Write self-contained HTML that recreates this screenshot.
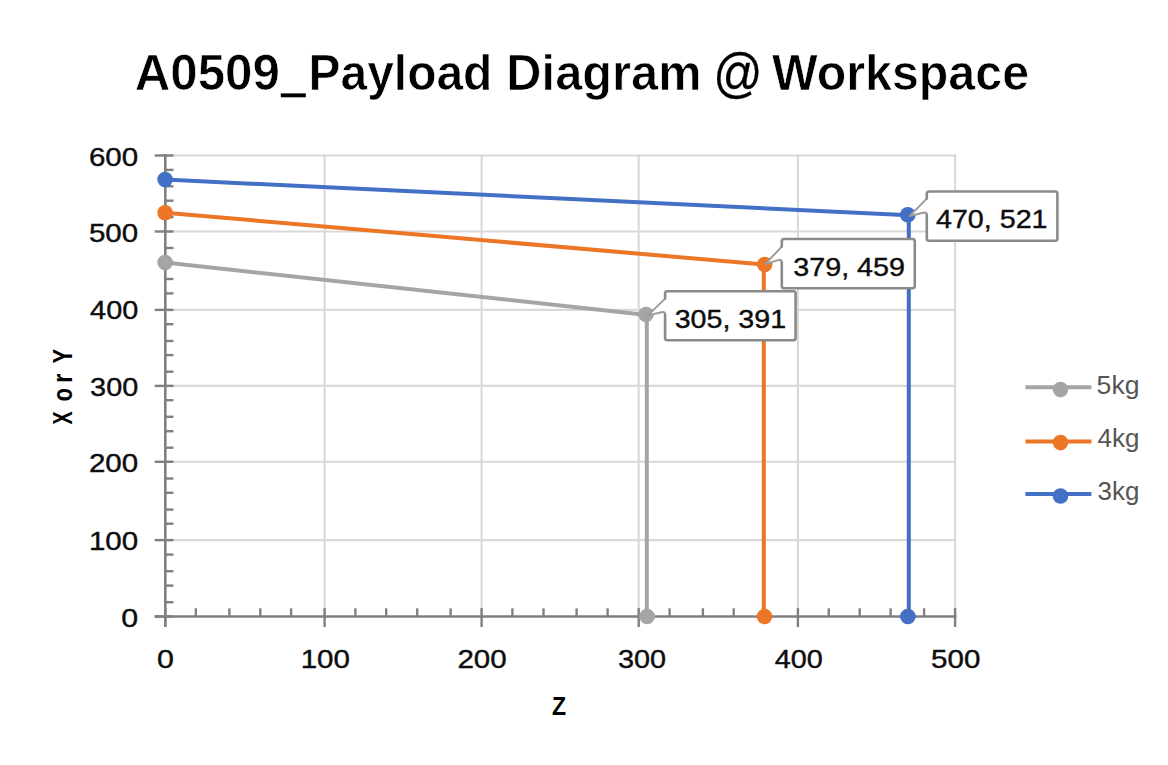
<!DOCTYPE html>
<html><head><meta charset="utf-8"><title>A0509 Payload Diagram</title>
<style>
html,body{margin:0;padding:0;background:#ffffff;}
body{width:1168px;height:765px;overflow:hidden;font-family:"Liberation Sans", sans-serif;}
svg{display:block;}
</style></head><body>
<svg width="1168" height="765" viewBox="0 0 1168 765">
<rect width="1168" height="765" fill="#ffffff"/>
<g stroke="#d9d9d9" stroke-width="2.1" fill="none">
<line x1="165.3" y1="540.1" x2="956.2" y2="540.1"/>
<line x1="165.3" y1="461.8" x2="956.2" y2="461.8"/>
<line x1="165.3" y1="385.9" x2="956.2" y2="385.9"/>
<line x1="165.3" y1="309.9" x2="956.2" y2="309.9"/>
<line x1="165.3" y1="231.5" x2="956.2" y2="231.5"/>
<line x1="165.3" y1="155.5" x2="956.2" y2="155.5"/>
<line x1="324.6" y1="154.4" x2="324.6" y2="616.5"/>
<line x1="481.6" y1="154.4" x2="481.6" y2="616.5"/>
<line x1="638.7" y1="154.4" x2="638.7" y2="616.5"/>
<line x1="797.9" y1="154.4" x2="797.9" y2="616.5"/>
<line x1="955.1" y1="154.4" x2="955.1" y2="616.5"/>
</g>
<g stroke="#808080" fill="none">
<g stroke-width="2.6">
<line x1="165.3" y1="154.2" x2="165.3" y2="627.0"/>
<line x1="154.7" y1="616.5" x2="956.4" y2="616.5"/>
</g><g stroke-width="2.4">
<line x1="154.7" y1="616.5" x2="173.5" y2="616.5"/>
<line x1="165.3" y1="602.2" x2="173.5" y2="602.2"/>
<line x1="165.3" y1="585.6" x2="173.5" y2="585.6"/>
<line x1="165.3" y1="571.2" x2="173.5" y2="571.2"/>
<line x1="165.3" y1="554.6" x2="173.5" y2="554.6"/>
<line x1="154.7" y1="540.1" x2="173.5" y2="540.1"/>
<line x1="165.3" y1="523.7" x2="173.5" y2="523.7"/>
<line x1="165.3" y1="509.6" x2="173.5" y2="509.6"/>
<line x1="165.3" y1="492.8" x2="173.5" y2="492.8"/>
<line x1="165.3" y1="478.5" x2="173.5" y2="478.5"/>
<line x1="154.7" y1="461.8" x2="173.5" y2="461.8"/>
<line x1="165.3" y1="447.7" x2="173.5" y2="447.7"/>
<line x1="165.3" y1="431.2" x2="173.5" y2="431.2"/>
<line x1="165.3" y1="416.8" x2="173.5" y2="416.8"/>
<line x1="165.3" y1="400.2" x2="173.5" y2="400.2"/>
<line x1="154.7" y1="385.9" x2="173.5" y2="385.9"/>
<line x1="165.3" y1="371.7" x2="173.5" y2="371.7"/>
<line x1="165.3" y1="355.1" x2="173.5" y2="355.1"/>
<line x1="165.3" y1="341.0" x2="173.5" y2="341.0"/>
<line x1="165.3" y1="324.2" x2="173.5" y2="324.2"/>
<line x1="154.7" y1="309.9" x2="173.5" y2="309.9"/>
<line x1="165.3" y1="293.4" x2="173.5" y2="293.4"/>
<line x1="165.3" y1="279.0" x2="173.5" y2="279.0"/>
<line x1="165.3" y1="262.4" x2="173.5" y2="262.4"/>
<line x1="165.3" y1="248.0" x2="173.5" y2="248.0"/>
<line x1="154.7" y1="231.5" x2="173.5" y2="231.5"/>
<line x1="165.3" y1="217.2" x2="173.5" y2="217.2"/>
<line x1="165.3" y1="200.7" x2="173.5" y2="200.7"/>
<line x1="165.3" y1="186.3" x2="173.5" y2="186.3"/>
<line x1="165.3" y1="169.9" x2="173.5" y2="169.9"/>
<line x1="154.7" y1="155.5" x2="173.5" y2="155.5"/>
<line x1="165.3" y1="608.1" x2="165.3" y2="627.0"/>
<line x1="195.8" y1="608.3" x2="195.8" y2="616.5"/>
<line x1="229.4" y1="608.3" x2="229.4" y2="616.5"/>
<line x1="260.3" y1="608.3" x2="260.3" y2="616.5"/>
<line x1="291.1" y1="608.3" x2="291.1" y2="616.5"/>
<line x1="324.6" y1="608.1" x2="324.6" y2="627.0"/>
<line x1="355.4" y1="608.3" x2="355.4" y2="616.5"/>
<line x1="386.2" y1="608.3" x2="386.2" y2="616.5"/>
<line x1="417.2" y1="608.3" x2="417.2" y2="616.5"/>
<line x1="450.6" y1="608.3" x2="450.6" y2="616.5"/>
<line x1="481.6" y1="608.1" x2="481.6" y2="627.0"/>
<line x1="512.4" y1="608.3" x2="512.4" y2="616.5"/>
<line x1="543.5" y1="608.3" x2="543.5" y2="616.5"/>
<line x1="576.6" y1="608.3" x2="576.6" y2="616.5"/>
<line x1="607.6" y1="608.3" x2="607.6" y2="616.5"/>
<line x1="638.7" y1="608.1" x2="638.7" y2="627.0"/>
<line x1="669.6" y1="608.3" x2="669.6" y2="616.5"/>
<line x1="702.9" y1="608.3" x2="702.9" y2="616.5"/>
<line x1="733.7" y1="608.3" x2="733.7" y2="616.5"/>
<line x1="764.5" y1="608.3" x2="764.5" y2="616.5"/>
<line x1="797.9" y1="608.1" x2="797.9" y2="627.0"/>
<line x1="828.8" y1="608.3" x2="828.8" y2="616.5"/>
<line x1="859.7" y1="608.3" x2="859.7" y2="616.5"/>
<line x1="890.6" y1="608.3" x2="890.6" y2="616.5"/>
<line x1="924.1" y1="608.3" x2="924.1" y2="616.5"/>
<line x1="955.1" y1="608.1" x2="955.1" y2="627.0"/>
</g></g>
<g transform="translate(71.7,0) rotate(-90) scale(1,1.14)" font-family='"Liberation Sans", sans-serif' font-weight="700" font-size="24.5" fill="#000">
<text x="-424.60" y="0" textLength="13.07" lengthAdjust="spacingAndGlyphs">X</text>
<text x="-401.20" y="0" textLength="13.17" lengthAdjust="spacingAndGlyphs">o</text>
<text x="-382.98" y="0" textLength="9.32" lengthAdjust="spacingAndGlyphs">r</text>
<text x="-363.40" y="0" textLength="14.71" lengthAdjust="spacingAndGlyphs">Y</text>
</g>
<polyline points="165.1,262.5 646.8,314.9 646.8,616.5" fill="none" stroke="#a5a5a5" stroke-width="4" stroke-linejoin="round" stroke-linecap="round"/>
<circle cx="165.1" cy="262.5" r="7.8" fill="#a5a5a5"/>
<circle cx="646.0" cy="314.6" r="7.8" fill="#a5a5a5"/>
<circle cx="647.1" cy="616.5" r="7.8" fill="#a5a5a5"/>
<polyline points="165.1,212.7 763.8,264.5 763.8,616.5" fill="none" stroke="#ec7526" stroke-width="4" stroke-linejoin="round" stroke-linecap="round"/>
<circle cx="165.1" cy="212.7" r="7.8" fill="#ec7526"/>
<circle cx="764.7" cy="264.6" r="7.8" fill="#ec7526"/>
<circle cx="764.5" cy="616.5" r="7.8" fill="#ec7526"/>
<polyline points="165.1,179.6 908.8,215.2 908.8,616.5" fill="none" stroke="#4170c4" stroke-width="4" stroke-linejoin="round" stroke-linecap="round"/>
<circle cx="165.1" cy="179.6" r="7.8" fill="#4170c4"/>
<circle cx="907.8" cy="214.8" r="7.8" fill="#4170c4"/>
<circle cx="907.9" cy="616.5" r="7.8" fill="#4170c4"/>
<path d="M665.1,314.2 V338.1 Q665.1,340.3 667.3,340.3 H793.4 Q795.6,340.3 795.6,338.1 V293.5 Q795.6,291.3 793.4,291.3 H667.3 Q665.1,291.3 665.1,293.5 V298.6 L648.0,315.4 L662.5,312.0 Q665.1,312.0 665.1,314.2 Z" fill="#ffffff" stroke="none"/>
<path d="M665.1,298.6 L648.0,315.4 L662.5,312.0 Q665.1,312.0 665.1,314.2" fill="none" stroke="#9a9a9a" stroke-width="1.9" stroke-linejoin="round" stroke-linecap="round"/>
<path d="M665.1,314.2 V338.1 Q665.1,340.3 667.3,340.3 H793.4 Q795.6,340.3 795.6,338.1 V293.5 Q795.6,291.3 793.4,291.3 H667.3 Q665.1,291.3 665.1,293.5 V298.6" fill="none" stroke="#8a8a8a" stroke-width="2.6" stroke-linejoin="round" stroke-linecap="round"/>
<path d="M781.8,262.0 V286.0 Q781.8,288.2 784.0,288.2 H912.6 Q914.8,288.2 914.8,286.0 V241.2 Q914.8,239.0 912.6,239.0 H784.0 Q781.8,239.0 781.8,241.2 V246.6 L765.4,263.8 L779.2,259.8 Q781.8,259.8 781.8,262.0 Z" fill="#ffffff" stroke="none"/>
<path d="M781.8,246.6 L765.4,263.8 L779.2,259.8 Q781.8,259.8 781.8,262.0" fill="none" stroke="#9a9a9a" stroke-width="1.9" stroke-linejoin="round" stroke-linecap="round"/>
<path d="M781.8,262.0 V286.0 Q781.8,288.2 784.0,288.2 H912.6 Q914.8,288.2 914.8,286.0 V241.2 Q914.8,239.0 912.6,239.0 H784.0 Q781.8,239.0 781.8,241.2 V246.6" fill="none" stroke="#8a8a8a" stroke-width="2.6" stroke-linejoin="round" stroke-linecap="round"/>
<path d="M926.8,214.7 V238.5 Q926.8,240.7 929.0,240.7 H1055.2 Q1057.4,240.7 1057.4,238.5 V193.7 Q1057.4,191.5 1055.2,191.5 H929.0 Q926.8,191.5 926.8,193.7 V198.6 L909.6,216.0 L924.2,212.5 Q926.8,212.5 926.8,214.7 Z" fill="#ffffff" stroke="none"/>
<path d="M926.8,198.6 L909.6,216.0 L924.2,212.5 Q926.8,212.5 926.8,214.7" fill="none" stroke="#9a9a9a" stroke-width="1.9" stroke-linejoin="round" stroke-linecap="round"/>
<path d="M926.8,214.7 V238.5 Q926.8,240.7 929.0,240.7 H1055.2 Q1057.4,240.7 1057.4,238.5 V193.7 Q1057.4,191.5 1055.2,191.5 H929.0 Q926.8,191.5 926.8,193.7 V198.6" fill="none" stroke="#8a8a8a" stroke-width="2.6" stroke-linejoin="round" stroke-linecap="round"/>
<line x1="1025.4" y1="387.2" x2="1091.4" y2="387.2" stroke="#a5a5a5" stroke-width="4"/>
<circle cx="1060.5" cy="389.6" r="7.8" fill="#a5a5a5"/>
<line x1="1025.4" y1="441.6" x2="1091.4" y2="441.6" stroke="#ec7526" stroke-width="4"/>
<circle cx="1060.5" cy="442.6" r="7.8" fill="#ec7526"/>
<line x1="1025.4" y1="493.9" x2="1091.4" y2="493.9" stroke="#4170c4" stroke-width="4"/>
<circle cx="1060.5" cy="496.0" r="7.8" fill="#4170c4"/>
<rect x="280.8" y="93.4" width="25.0" height="3.9" fill="#000000"/>
<text x="134.71" y="89.7" font-family='"Liberation Sans", sans-serif' font-size="49.6" font-weight="700" fill="#000000" stroke="#ffffff" stroke-width="0.7" textLength="145.16" lengthAdjust="spacingAndGlyphs">A0509</text>
<text x="308.50" y="89.7" font-family='"Liberation Sans", sans-serif' font-size="49.6" font-weight="700" fill="#000000" stroke="#ffffff" stroke-width="0.7" textLength="183.92" lengthAdjust="spacingAndGlyphs">Payload</text>
<text x="506.35" y="89.7" font-family='"Liberation Sans", sans-serif' font-size="49.6" font-weight="700" fill="#000000" stroke="#ffffff" stroke-width="0.7" textLength="195.21" lengthAdjust="spacingAndGlyphs">Diagram</text>
<g transform="translate(0,90.8) scale(1,1.1)"><text x="713.36" y="0" font-family='"Liberation Sans", sans-serif' font-size="49.6" fill="#000000" stroke="#000000" stroke-width="0.3" textLength="49.31" lengthAdjust="spacingAndGlyphs">@</text></g>
<text x="771.90" y="89.7" font-family='"Liberation Sans", sans-serif' font-size="49.6" font-weight="700" fill="#000000" stroke="#ffffff" stroke-width="0.7" textLength="257.14" lengthAdjust="spacingAndGlyphs">Workspace</text>
<text x="121.33" y="626.6" font-family='"Liberation Sans", sans-serif' font-size="26.0" fill="#0d0d0d" stroke="#0d0d0d" stroke-width="0.4" textLength="16.91" lengthAdjust="spacingAndGlyphs">0</text>
<text x="88.96" y="550.0" font-family='"Liberation Sans", sans-serif' font-size="26.0" fill="#0d0d0d" stroke="#0d0d0d" stroke-width="0.4" textLength="49.26" lengthAdjust="spacingAndGlyphs">100</text>
<text x="88.96" y="471.6" font-family='"Liberation Sans", sans-serif' font-size="26.0" fill="#0d0d0d" stroke="#0d0d0d" stroke-width="0.4" textLength="49.26" lengthAdjust="spacingAndGlyphs">200</text>
<text x="90.10" y="395.7" font-family='"Liberation Sans", sans-serif' font-size="26.0" fill="#0d0d0d" stroke="#0d0d0d" stroke-width="0.4" textLength="48.11" lengthAdjust="spacingAndGlyphs">300</text>
<text x="90.10" y="318.6" font-family='"Liberation Sans", sans-serif' font-size="26.0" fill="#0d0d0d" stroke="#0d0d0d" stroke-width="0.4" textLength="48.11" lengthAdjust="spacingAndGlyphs">400</text>
<text x="88.96" y="241.9" font-family='"Liberation Sans", sans-serif' font-size="26.0" fill="#0d0d0d" stroke="#0d0d0d" stroke-width="0.4" textLength="49.26" lengthAdjust="spacingAndGlyphs">500</text>
<text x="88.96" y="165.8" font-family='"Liberation Sans", sans-serif' font-size="26.0" fill="#0d0d0d" stroke="#0d0d0d" stroke-width="0.4" textLength="49.26" lengthAdjust="spacingAndGlyphs">600</text>
<text x="157.03" y="667.7" font-family='"Liberation Sans", sans-serif' font-size="26.0" fill="#0d0d0d" stroke="#0d0d0d" stroke-width="0.4" textLength="16.91" lengthAdjust="spacingAndGlyphs">0</text>
<text x="300.66" y="667.7" font-family='"Liberation Sans", sans-serif' font-size="26.0" fill="#0d0d0d" stroke="#0d0d0d" stroke-width="0.4" textLength="49.26" lengthAdjust="spacingAndGlyphs">100</text>
<text x="457.46" y="667.7" font-family='"Liberation Sans", sans-serif' font-size="26.0" fill="#0d0d0d" stroke="#0d0d0d" stroke-width="0.4" textLength="49.26" lengthAdjust="spacingAndGlyphs">200</text>
<text x="617.90" y="667.7" font-family='"Liberation Sans", sans-serif' font-size="26.0" fill="#0d0d0d" stroke="#0d0d0d" stroke-width="0.4" textLength="48.11" lengthAdjust="spacingAndGlyphs">300</text>
<text x="774.80" y="667.7" font-family='"Liberation Sans", sans-serif' font-size="26.0" fill="#0d0d0d" stroke="#0d0d0d" stroke-width="0.4" textLength="48.11" lengthAdjust="spacingAndGlyphs">400</text>
<text x="931.06" y="667.7" font-family='"Liberation Sans", sans-serif' font-size="26.0" fill="#0d0d0d" stroke="#0d0d0d" stroke-width="0.4" textLength="49.26" lengthAdjust="spacingAndGlyphs">500</text>
<text x="551.90" y="714.9" font-family='"Liberation Sans", sans-serif' font-size="26.0" font-weight="700" fill="#000000" textLength="14.10" lengthAdjust="spacingAndGlyphs">Z</text>
<text x="674.70" y="327.6" font-family='"Liberation Sans", sans-serif' font-size="26.0" fill="#0d0d0d" stroke="#0d0d0d" stroke-width="0.4" textLength="111.41" lengthAdjust="spacingAndGlyphs">305, 391</text>
<text x="793.30" y="275.8" font-family='"Liberation Sans", sans-serif' font-size="26.0" fill="#0d0d0d" stroke="#0d0d0d" stroke-width="0.4" textLength="111.71" lengthAdjust="spacingAndGlyphs">379, 459</text>
<text x="936.00" y="227.6" font-family='"Liberation Sans", sans-serif' font-size="26.0" fill="#0d0d0d" stroke="#0d0d0d" stroke-width="0.4" textLength="111.51" lengthAdjust="spacingAndGlyphs">470, 521</text>
<text x="1096.58" y="393.8" font-family='"Liberation Sans", sans-serif' font-size="26.0" fill="#555555" textLength="42.92" lengthAdjust="spacingAndGlyphs">5kg</text>
<text x="1097.60" y="447.0" font-family='"Liberation Sans", sans-serif' font-size="26.0" fill="#555555" textLength="41.86" lengthAdjust="spacingAndGlyphs">4kg</text>
<text x="1097.60" y="499.9" font-family='"Liberation Sans", sans-serif' font-size="26.0" fill="#555555" textLength="41.86" lengthAdjust="spacingAndGlyphs">3kg</text>
</svg>
</body></html>
